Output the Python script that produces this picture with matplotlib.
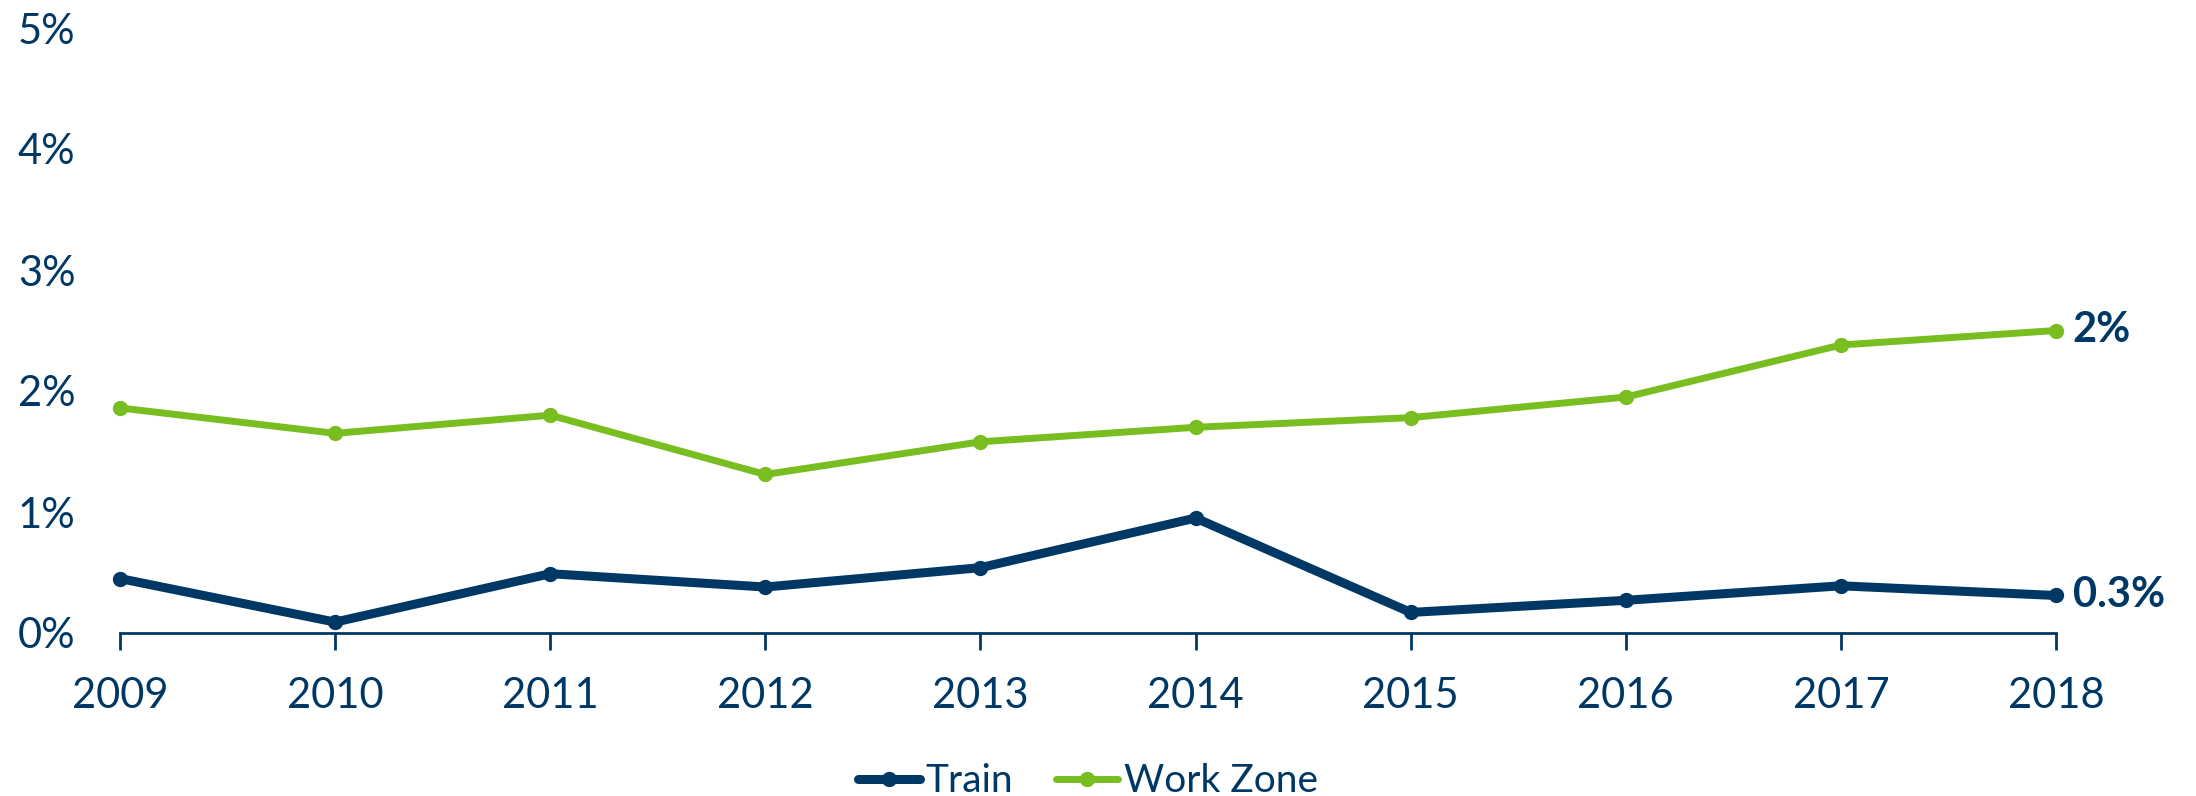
import matplotlib
matplotlib.use("Agg")
import matplotlib.pyplot as plt
from matplotlib.ticker import FuncFormatter

# values (percent)
years = [2009, 2010, 2011, 2012, 2013, 2014, 2015, 2016, 2017, 2018]
train = [0.45, 0.09, 0.49, 0.38, 0.54, 0.95, 0.17, 0.27, 0.39, 0.31]
work_zone = [1.86, 1.65, 1.80, 1.31, 1.58, 1.70, 1.78, 1.95, 2.38, 2.50]
end_labels = ["0.3%", "2%"]

NAVY = "#003865"
GREEN = "#78BE20"

plt.rcParams['font.family'] = ['Lato', 'DejaVu Sans']

fig = plt.figure(figsize=(21.96, 7.96), dpi=100)
ax = fig.add_axes([120 / 2196, 1 - 633 / 796, (2056 - 120) / 2196, (633 - 28) / 796])

ax.plot(years, train, color=NAVY, lw=6.5, marker='o', ms=10, label="Train",
        solid_capstyle='round', clip_on=False, zorder=3)
ax.plot(years, work_zone, color=GREEN, lw=5, marker='o', ms=10, label="Work Zone",
        solid_capstyle='round', clip_on=False, zorder=3)

# end-of-line value labels
for series, lab in zip([train, work_zone], end_labels):
    ax.annotate(lab, xy=(years[-1], series[-1]), xytext=(12, 0),
                textcoords='offset points', va='center', ha='left',
                fontsize=30, fontweight='bold', color=NAVY)

ax.set_xlim(years[0], years[-1])
ax.set_ylim(0, 5)
ax.set_xticks(years)
ax.set_yticks(range(0, 6))
ax.yaxis.set_major_formatter(FuncFormatter(lambda v, p: f"{v:.0f}%"))

for s in ['top', 'right', 'left']:
    ax.spines[s].set_visible(False)
ax.spines['bottom'].set_color(NAVY)
ax.spines['bottom'].set_linewidth(2)

ax.tick_params(axis='x', colors=NAVY, labelsize=30, length=12, width=2, pad=20)
ax.tick_params(axis='y', colors=NAVY, labelsize=30, length=0, pad=32)

leg = ax.legend(loc='center', bbox_to_anchor=(0.5, -0.245), ncol=2, frameon=False,
                fontsize=28, handlelength=1.6, handletextpad=0.15, columnspacing=1.1)
for t in leg.get_texts():
    t.set_color(NAVY)

fig.savefig("out.png", dpi=100)
